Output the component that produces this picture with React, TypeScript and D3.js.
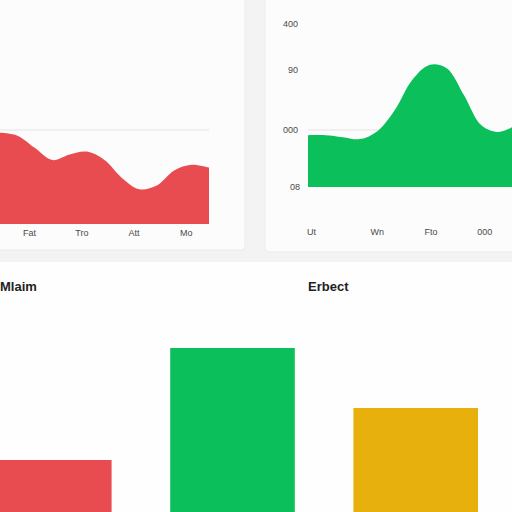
import React, { useEffect, useRef } from 'react';
import * as d3 from 'd3';

// red area (top left)
const redValues = [97, 94, 81, 68, 74, 77, 68, 49, 37, 41, 57, 63, 60];
const redTicks = ['Fat', 'Tro', 'Att', 'Mo'];
const redTickAt = [1.7, 4.7, 7.7, 10.7];

// green area (top right)
const greenValues = [182, 182, 175, 168, 196, 233, 283, 311, 304, 258, 208, 193, 208];
const greenTicks = ['Ut', 'Wn', 'Fto', '000'];
const greenTickAt = [0.2, 4, 7.1, 10.2];
const greenYTicks = [0, 200, 300, 400];
const greenYLabels = ['08', '000', '90', '400'];

// bottom bars
const barCategories = ['Mlaim', 'Mid', 'Erbect'];
const barValues = [30, 86, 56];
const barColors = ['#e84c50', '#0bbf5b', '#e8b00c'];

export default function App() {
  const svgRef = useRef<SVGSVGElement>(null);

  useEffect(() => {
    if (!svgRef.current) return;
    const svg = d3.select(svgRef.current);
    svg.selectAll('*').remove();

    const W = 512, H = 512;
    svg.attr('width', W).attr('height', H);

    svg.append('rect').attr('width', W).attr('height', H).attr('fill', '#f3f3f3');
    // cards
    svg.append('rect').attr('x', -4).attr('y', -4).attr('width', 249).attr('height', 254)
      .attr('rx', 4).attr('fill', '#fcfcfc').attr('stroke', '#ececec');
    svg.append('rect').attr('x', 265).attr('y', -4).attr('width', 252).attr('height', 256)
      .attr('rx', 4).attr('fill', '#fcfcfc').attr('stroke', '#ececec');
    svg.append('rect').attr('x', 0).attr('y', 262).attr('width', W).attr('height', 260)
      .attr('fill', '#fefefe');

    const font = '"Liberation Sans", Arial, sans-serif';

    // ---- red area ----
    const rx = d3.scaleLinear().domain([0, redValues.length - 1]).range([0, 209]);
    const ry = d3.scaleLinear().domain([0, 100]).range([224, 130]);
    const rg = svg.append('g');
    rg.append('line').attr('x1', 0).attr('x2', 209).attr('y1', ry(100)).attr('y2', ry(100))
      .attr('stroke', '#e3e3e3').attr('stroke-width', 1);
    const redArea = d3.area<number>()
      .x((_, i) => rx(i)).y0(ry(0)).y1(d => ry(d))
      .curve(d3.curveCatmullRom.alpha(0.5));
    rg.append('path').datum(redValues).attr('d', redArea as any).attr('fill', '#e84c50');
    rg.selectAll('text.tick').data(redTicks).enter().append('text')
      .attr('x', (_, i) => rx(redTickAt[i])).attr('y', 236)
      .attr('text-anchor', 'middle').attr('font-size', 9).attr('font-family', font)
      .attr('fill', '#4a4a4a').text(d => d);

    // ---- green area ----
    const gx = d3.scaleLinear().domain([0, greenValues.length - 1]).range([308, 516]);
    const gy = d3.scaleLinear().domain(greenYTicks).range([187, 130, 70, 24]);
    const gg = svg.append('g');
    gg.append('line').attr('x1', 308).attr('x2', 390).attr('y1', gy(200)).attr('y2', gy(200))
      .attr('stroke', '#e3e3e3');
    const greenArea = d3.area<number>()
      .x((_, i) => gx(i)).y0(gy(0)).y1(d => gy(d))
      .curve(d3.curveCatmullRom.alpha(0.5));
    gg.append('path').datum(greenValues).attr('d', greenArea as any).attr('fill', '#0bbf5b');
    gg.selectAll('text.y').data(greenYTicks).enter().append('text')
      .attr('x', (_, i) => (i === 0 ? 300 : 298)).attr('y', d => gy(d) + 3)
      .attr('text-anchor', 'end').attr('font-size', 9).attr('font-family', font)
      .attr('fill', '#4a4a4a').text((_, i) => greenYLabels[i]);
    gg.selectAll('text.x').data(greenTicks).enter().append('text')
      .attr('x', (_, i) => gx(greenTickAt[i])).attr('y', 235)
      .attr('text-anchor', 'middle').attr('font-size', 9).attr('font-family', font)
      .attr('fill', '#4a4a4a').text(d => d);

    // ---- bars ----
    const bx = d3.scaleBand().domain(barCategories).range([-13, 478]).paddingInner(0.32).paddingOuter(0);
    const by = d3.scaleLinear().domain([0, 100]).range([520, 320]);
    svg.append('g').selectAll('rect').data(barValues).enter().append('rect')
      .attr('x', (_, i) => bx(barCategories[i])!)
      .attr('y', d => by(d))
      .attr('width', bx.bandwidth())
      .attr('height', d => by(0) - by(d))
      .attr('fill', (_, i) => barColors[i]);

    svg.append('text').attr('x', 0).attr('y', 291).attr('font-size', 13).attr('font-weight', 'bold')
      .attr('font-family', font).attr('fill', '#222').text(barCategories[0]);
    svg.append('text').attr('x', 308).attr('y', 291).attr('font-size', 13).attr('font-weight', 'bold')
      .attr('font-family', font).attr('fill', '#222').text(barCategories[2]);
  }, []);

  return (
    <div style={{ position: 'absolute', left: 0, top: 0 }}>
      <svg ref={svgRef} style={{ display: 'block' }}></svg>
    </div>
  );
}
